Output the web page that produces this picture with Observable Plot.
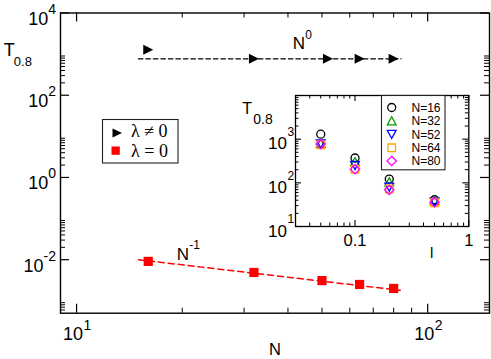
<!DOCTYPE html>
<html><head><meta charset="utf-8">
<script src="https://cdn.jsdelivr.net/npm/d3@7"></script>
<script src="https://cdn.jsdelivr.net/npm/@observablehq/plot@0.6"></script>
<style>
body{margin:0;background:#fff;}
#wrap{position:relative;width:491px;height:359px;overflow:hidden;background:#fff;font-family:"Liberation Sans",Arial,sans-serif;}
#wrap svg{position:absolute;overflow:visible;}
</style></head><body><div id="wrap"></div>
<script>
// ---------- main chart data ----------
const sizesLamNonZero = [16, 32, 52, 64, 80];
const T_lamNonZero = [1270, 770, 770, 770, 770];
const sizesLamZero = [16, 32, 50, 64, 80];
const T_lamZero = [0.0091, 0.0049, 0.0031, 0.0025, 0.0020];
const fitN0_N = [15, 84];
const fitN0_T = [770, 770];
const fitN1_N = [15, 83.5];
const fitN1_T = [0.0100, 0.0018];
const mainXTickValues = [10, 100];
const mainXTickExps = ["1", "2"];
const mainYTickValues = [1e-2, 1e0, 1e2, 1e4];
const mainYTickExps = ["-2", "0", "2", "4"];
const legendLabels = ["\u03bb \u2260 0", "\u03bb = 0"];

// ---------- inset data ----------
const lValues = [0.05, 0.1, 0.2, 0.5];
const T_N16 = [1300, 370, 122, 41];
const T_N32 = [800, 305, 105, 39];
const T_N52 = [780, 250, 80, 36];
const T_N64 = [745, 205, 72, 35];
const T_N80 = [770, 205, 69, 36];
const insetNames = ["N=16", "N=32", "N=52", "N=64", "N=80"];
const insetXTickValues = [0.1, 1];
const insetXTickLabels = ["0.1", "1"];
const insetYTickValues = [10, 100, 1000];
const insetYTickExps = ["1", "2", "3"];

// ---------- helpers ----------
const minorTicks = (exps, lo, hi) => exps.flatMap(e => [2,3,4,5,6,7,8,9].map(k => k * Math.pow(10, e))).filter(v => v >= lo * 0.999 && v <= hi * 1.001);
const symbolFrom = f => ({draw(ctx, size){ const r = Math.sqrt(size / Math.PI); f(ctx, r); }});
const triRight = symbolFrom((c,r)=>{c.moveTo(-r,-r);c.lineTo(r,0);c.lineTo(-r,r);c.closePath();});
const squareSym = symbolFrom((c,r)=>{c.moveTo(-r,-r);c.lineTo(r,-r);c.lineTo(r,r);c.lineTo(-r,r);c.closePath();});
const triUp = symbolFrom((c,r)=>{c.moveTo(0,-r*0.95);c.lineTo(r,r*0.9);c.lineTo(-r,r*0.9);c.closePath();});
const triDown = symbolFrom((c,r)=>{c.moveTo(0,r*0.95);c.lineTo(r,-r*0.9);c.lineTo(-r,-r*0.9);c.closePath();});
const diamondSym = symbolFrom((c,r)=>{c.moveTo(0,-r);c.lineTo(r,0);c.lineTo(0,r);c.lineTo(-r,0);c.closePath();});
const circleSym = symbolFrom((c,r)=>{c.moveTo(r,0);c.arc(0,0,r,0,2*Math.PI);c.closePath();});

function frameTicks(xs, ys, iw, ih, len, sw) {
  return [
    Plot.tickX(xs, {x: d => d, insetTop: ih - len, stroke: "black", strokeWidth: sw}),
    Plot.tickX(xs, {x: d => d, insetBottom: ih - len, stroke: "black", strokeWidth: sw}),
    Plot.tickY(ys, {y: d => d, insetRight: iw - len, stroke: "black", strokeWidth: sw}),
    Plot.tickY(ys, {y: d => d, insetLeft: iw - len, stroke: "black", strokeWidth: sw})
  ];
}
const wrap = document.getElementById("wrap");
const FONT = "Liberation Sans, Arial, sans-serif";

// ---------- main plot ----------
const W = 491, H = 359, mL = 60, mR = 2, mT = 12.5, mB = 46.3;
const iw = W - mL - mR, ih = H - mT - mB;
const xDom = [9, 150], yDom = [5e-4, 1e4];

const lamNZ = sizesLamNonZero.map((n, i) => ({N: n, T: T_lamNonZero[i]}));
const lamZ = sizesLamZero.map((n, i) => ({N: n, T: T_lamZero[i]}));
const fit0 = fitN0_N.map((n, i) => ({N: n, T: fitN0_T[i]}));
const fit1 = fitN1_N.map((n, i) => ({N: n, T: fitN1_T[i]}));

const supW = s => [...s].reduce((a, ch) => a + (ch === "-" ? 4.7 : 7.8), 0);

const yLabelMarks = mainYTickValues.flatMap((v, i) => [
  Plot.text([v], {y: d => d, text: () => "10", frameAnchor: "left", dx: -4.5 - supW(mainYTickExps[i]), dy: 12, textAnchor: "end", lineAnchor: "bottom", fontSize: 18}),
  Plot.text([v], {y: d => d, text: () => mainYTickExps[i], frameAnchor: "left", dx: -4.5, dy: 1, textAnchor: "end", lineAnchor: "bottom", fontSize: 14})
]);
const xLabelMarks = mainXTickValues.flatMap((v, i) => [
  Plot.text([v], {x: d => d, text: () => "10", frameAnchor: "bottom", dx: 6.5, dy: 26.6, textAnchor: "end", lineAnchor: "bottom", fontSize: 18}),
  Plot.text([v], {x: d => d, text: () => mainXTickExps[i], frameAnchor: "bottom", dx: 7, dy: 16.6, textAnchor: "start", lineAnchor: "bottom", fontSize: 14})
]);

const annotN0 = [{N: 41.3, T: 1350}];
const annotN1 = [{N: 19.3, T: 0.0100}];

const mainPlot = Plot.plot({
  width: W, height: H, marginLeft: mL, marginRight: mR, marginTop: mT, marginBottom: mB,
  x: {type: "log", domain: xDom, axis: null},
  y: {type: "log", domain: yDom, axis: null},
  style: {background: "transparent", fontFamily: FONT, color: "black"},
  marks: [
    ...frameTicks(mainXTickValues, mainYTickValues, iw, ih, 9, 1.2),
    ...frameTicks(minorTicks([0,1,2], xDom[0]*1.01, xDom[1]), minorTicks([-4,-2,0,2], yDom[0]*1.01, yDom[1]), iw, ih, 5, 1),
    Plot.line(fit0, {x: "N", y: "T", stroke: "black", strokeWidth: 1.3, strokeDasharray: "4.5,3"}),
    Plot.line(fit1, {x: "N", y: "T", stroke: "#ff0000", strokeWidth: 1.5, strokeDasharray: "6,4"}),
    Plot.dot(lamNZ, {x: "N", y: "T", symbol: triRight, r: 5, fill: "black", stroke: "none"}),
    Plot.dot(lamZ, {x: "N", y: "T", symbol: squareSym, r: 4.6, fill: "#ff0000", stroke: "none"}),
    Plot.text(annotN0, {x: "N", y: "T", text: () => "N", textAnchor: "start", lineAnchor: "bottom", fontSize: 17}),
    Plot.text(annotN0, {x: "N", y: "T", text: () => "0", dx: 12.5, dy: -10, textAnchor: "start", lineAnchor: "bottom", fontSize: 12}),
    Plot.text(annotN1, {x: "N", y: "T", text: () => "N", textAnchor: "start", lineAnchor: "bottom", fontSize: 17}),
    Plot.text(annotN1, {x: "N", y: "T", text: () => "-1", dx: 12.5, dy: -11, textAnchor: "start", lineAnchor: "bottom", fontSize: 12}),
    ...yLabelMarks,
    ...xLabelMarks,
    Plot.text(["N"], {text: d => d, frameAnchor: "bottom", dy: 41.5, textAnchor: "middle", lineAnchor: "bottom", fontSize: 16.5}),
    Plot.text(["T"], {text: d => d, frameAnchor: "top-left", dx: -56.7, dy: 42.5, textAnchor: "start", lineAnchor: "bottom", fontSize: 18}),
    Plot.text(["0.8"], {text: d => d, frameAnchor: "top-left", dx: -46.7, dy: 52.5, textAnchor: "start", lineAnchor: "bottom", fontSize: 13}),
    Plot.frame({stroke: "black", strokeWidth: 1.4})
  ]
});
mainPlot.style.left = "0px"; mainPlot.style.top = "0px";
wrap.appendChild(mainPlot);

// main legend (hand-built box)
{
  const g = d3.create("svg").attr("width", 77).attr("height", 45)
    .style("left", "102px").style("top", "118.5px");
  g.append("rect").attr("x", 0.5).attr("y", 0.5).attr("width", 75.5).attr("height", 43.5)
    .attr("fill", "white").attr("stroke", "#222").attr("stroke-width", 1.1);
  g.append("path").attr("d", "M10.5,9.5L20,14L10.5,18.5Z").attr("fill", "black");
  g.append("rect").attr("x", 9.5).attr("y", 27.5).attr("width", 8.3).attr("height", 8.3).attr("fill", "#ff0000");
  legendLabels.forEach((t, i) => {
    g.append("text").attr("x", 29).attr("y", i === 0 ? 18.2 : 37.5)
      .attr("font-family", "Liberation Serif, Times New Roman, serif").attr("font-size", 18).text(t);
  });
  wrap.appendChild(g.node());
}

// ---------- inset plot ----------
const IW = 235, IH = 180, imL = 55, imR = 6.7, imT = 7, imB = 42;
const iiw = IW - imL - imR, iih = IH - imT - imB;
const ixDom = [0.03, 1], iyDom = [10, 1e4];
const insetSeries = [
  {T: T_N16, color: "black", sym: circleSym, r: 4},
  {T: T_N32, color: "#009a00", sym: triUp, r: 4.4},
  {T: T_N52, color: "#0000ff", sym: triDown, r: 4.4},
  {T: T_N64, color: "#ffa500", sym: squareSym, r: 3.8},
  {T: T_N80, color: "#ff00ff", sym: diamondSym, r: 4.7}
];
const insetPlot = Plot.plot({
  width: IW, height: IH, marginLeft: imL, marginRight: imR, marginTop: imT, marginBottom: imB,
  x: {type: "log", domain: ixDom, axis: null},
  y: {type: "log", domain: iyDom, axis: null},
  style: {background: "transparent", fontFamily: FONT, color: "black"},
  marks: [
    Plot.frame({fill: "white"}),
    ...frameTicks(insetXTickValues, [...insetYTickValues, 1e4], iiw, iih, 6, 1.1),
    ...frameTicks(minorTicks([-2,-1], ixDom[0]*1.01, ixDom[1]), minorTicks([1,2,3], iyDom[0], iyDom[1]*0.99), iiw, iih, 3.5, 1),
    ...insetSeries.map(s => Plot.dot(lValues.map((l, i) => ({l, T: s.T[i]})), {x: "l", y: "T", symbol: s.sym, r: s.r, stroke: s.color, fill: "none", strokeWidth: 1.3})),
    Plot.text(insetYTickValues, {y: d => d, text: () => "10", frameAnchor: "left", dx: -8.5, dy: 10, textAnchor: "end", lineAnchor: "bottom", fontSize: 17}),
    Plot.text(insetYTickValues, {y: d => d, text: (d, i) => insetYTickExps[i], frameAnchor: "left", dx: -8, dy: -3.3, textAnchor: "start", lineAnchor: "bottom", fontSize: 12}),
    Plot.text(insetXTickValues, {x: d => d, text: (d, i) => insetXTickLabels[i], frameAnchor: "bottom", dy: 19, textAnchor: "middle", lineAnchor: "bottom", fontSize: 16.5}),
    Plot.text(["l"], {text: d => d, frameAnchor: "bottom", dx: 49.5, dy: 31.3, textAnchor: "middle", lineAnchor: "bottom", fontSize: 15}),
    Plot.text(["T"], {text: d => d, frameAnchor: "top-left", dx: -53.3, dy: 18.3, textAnchor: "start", lineAnchor: "bottom", fontSize: 16}),
    Plot.text(["0.8"], {text: d => d, frameAnchor: "top-left", dx: -42.3, dy: 28.3, textAnchor: "start", lineAnchor: "bottom", fontSize: 14}),
    Plot.frame({stroke: "black", strokeWidth: 1.3})
  ]
});
insetPlot.style.left = "240px"; insetPlot.style.top = "88px";
wrap.appendChild(insetPlot);

// inset legend (hand-built box)
{
  const g = d3.create("svg").attr("width", 65).attr("height", 76)
    .style("left", "381px").style("top", "94.5px");
  g.append("rect").attr("x", 0.5).attr("y", 0.5).attr("width", 63.5).attr("height", 74.3)
    .attr("fill", "white").attr("stroke", "#222").attr("stroke-width", 1.1);
  const rows = [12.5, 26, 39.3, 52.8, 66];
  const shapes = [
    "M14.7,0A4,4 0 1,1 6.7,0A4,4 0 1,1 14.7,0Z",
    "M10.7,-4.2L15.1,3.9L6.3,3.9Z",
    "M10.7,4.2L15.1,-3.9L6.3,-3.9Z",
    "M6.9,-3.8L14.5,-3.8L14.5,3.8L6.9,3.8Z",
    "M10.7,-4.7L15.4,0L10.7,4.7L6,0Z"
  ];
  insetSeries.forEach((s, i) => {
    g.append("path").attr("transform", `translate(0,${rows[i]})`).attr("d", shapes[i])
      .attr("fill", "none").attr("stroke", s.color).attr("stroke-width", 1.3);
    g.append("text").attr("x", 30.5).attr("y", rows[i] + 4.3).attr("font-family", FONT)
      .attr("font-size", 12).text(insetNames[i]);
  });
  wrap.appendChild(g.node());
}
</script></body></html>
